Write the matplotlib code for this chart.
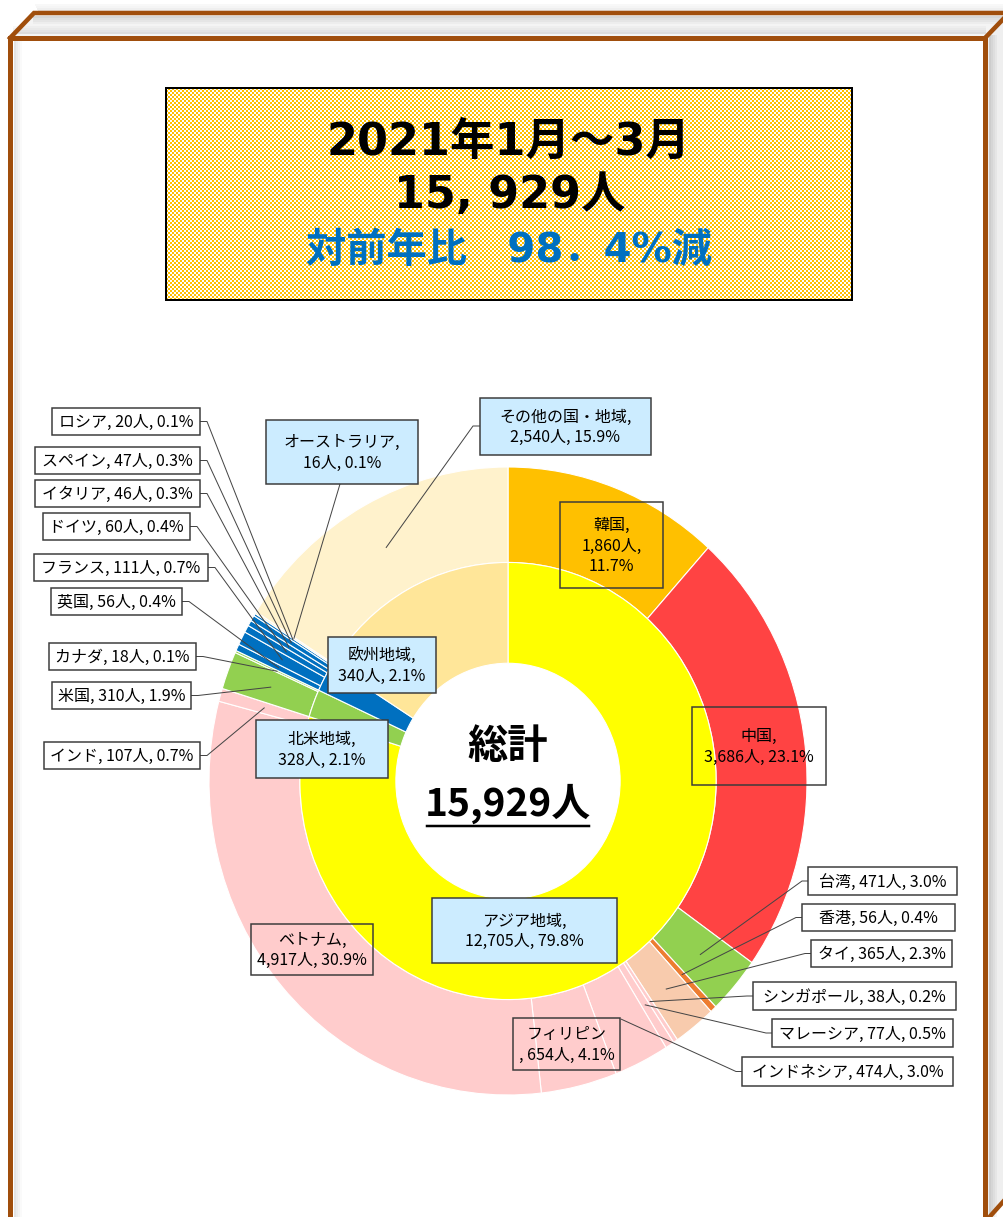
import numpy as np
import matplotlib
matplotlib.use("Agg")
import matplotlib.pyplot as plt
from matplotlib.patches import Rectangle, Polygon

plt.rcParams['font.family'] = ['Noto Sans CJK JP', 'DejaVu Sans']

# ---------------- data ----------------
countries = ['韓国', '中国', '台湾', '香港', 'タイ', 'シンガポール', 'マレーシア',
             'インドネシア', 'フィリピン', 'ベトナム', 'インド', '米国', 'カナダ',
             '英国', 'フランス', 'ドイツ', 'イタリア', 'スペイン', 'ロシア',
             'オーストラリア', 'その他の国・地域']
country_values = [1860, 3686, 471, 56, 365, 38, 77, 474, 654, 4917, 107, 310, 18,
                  56, 111, 60, 46, 47, 20, 16, 2540]
country_colors = ['#FFC000', '#FF4343', '#92D050', '#ED7D31', '#F8CBAD', '#FFCCCC',
                  '#FFCCCC', '#FFCCCC', '#FFCCCC', '#FFCCCC', '#FFCCCC', '#92D050',
                  '#92D050', '#0070C0', '#0070C0', '#0070C0', '#0070C0', '#0070C0',
                  '#0070C0', '#FFF2CC', '#FFF2CC']
regions = ['アジア地域', '北米地域', '欧州地域', 'その他']
region_values = [12705, 328, 340, 2556]
region_colors = ['#FFFF00', '#92D050', '#0070C0', '#FFE699']
total = 15929
title_lines = ['2021年1月～3月', '15, 929人', '対前年比　98．4%減']
center_title = '総計'

W, H = 1004, 1217
fig = plt.figure(figsize=(W / 100, H / 100), dpi=100)
fig.patch.set_facecolor('white')

BROWN = '#A04E0C'
PX = 0.72  # points per pixel
TITLE_FONT = ['DejaVu Sans', 'Noto Sans CJK JP']

# ---------------- background / frame ----------------
bg = fig.add_axes([0, 0, 1, 1], zorder=0)
bg.set_xlim(0, W); bg.set_ylim(H, 0); bg.axis('off')

# soft shadow above top face
for i, a in enumerate([0.05, 0.08, 0.12, 0.16]):
    bg.plot([36 + i, 1010], [5 + i * 2, 5 + i * 2], color='gray', alpha=a, lw=2 * PX)

top_face = Polygon([(10, 38), (34, 13), (1010, 13), (985, 38)], closed=True,
                   facecolor='#F4F4F4', edgecolor='none')
bg.add_patch(top_face)
for i, a in enumerate([0.25, 0.18, 0.12, 0.06]):
    bg.plot([34, 1008], [17 + i * 2, 17 + i * 2], color='gray', alpha=a, lw=2 * PX)
    bg.plot([14, 985], [33 - i * 2, 33 - i * 2], color='gray', alpha=a * 0.8, lw=2 * PX)

right_face = Polygon([(985, 38), (1010, 13), (1010, 1195), (985, 1222)], closed=True,
                     facecolor='#EFEFEF', edgecolor='none')
bg.add_patch(right_face)
for i, a in enumerate([0.30, 0.22, 0.15, 0.08]):
    bg.plot([990 + i * 2, 990 + i * 2], [36, 1222], color='gray', alpha=a, lw=2 * PX)
for i, a in enumerate([0.22, 0.15, 0.09, 0.04]):
    bg.plot([15 + i * 2, 15 + i * 2], [42, 1222], color='gray', alpha=a, lw=2 * PX)

# brown edges
bg.plot([10, 10, 985, 985], [1225, 38, 38, 1225], color=BROWN, lw=5 * PX,
        solid_joinstyle='miter')
bg.plot([10, 34, 1012], [38, 13, 13], color=BROWN, lw=4.5 * PX, solid_joinstyle='miter')
bg.plot([985, 1010], [38, 12], color=BROWN, lw=4.5 * PX)
bg.plot([985, 1010], [1222, 1194], color=BROWN, lw=4.5 * PX)

# title box with dotted (checkerboard) fill
tx0, ty0, tx1, ty1 = 166, 88, 852, 300
hh, ww = ty1 - ty0, tx1 - tx0
yy, xx = np.mgrid[0:hh, 0:ww]
chk = ((yy // 2 + xx // 2) % 2).astype(bool)
img = np.ones((hh, ww, 3))
img[chk] = np.array([255, 192, 0]) / 255.0
bg.imshow(img, extent=(tx0, tx1, ty1, ty0), interpolation='nearest', zorder=1,
          aspect='auto')
bg.add_patch(Rectangle((tx0, ty0), ww, hh, fill=False, edgecolor='black',
                       lw=2 * PX, zorder=2))
bg.set_xlim(0, W); bg.set_ylim(H, 0)
bg.text(508, 142, title_lines[0], ha='center', va='center', fontsize=32,
        fontweight='bold', color='black', zorder=3, family=TITLE_FONT)
bg.text(510, 196, title_lines[1], ha='center', va='center', fontsize=32,
        fontweight='bold', color='black', zorder=3, family=TITLE_FONT)
bg.text(509, 251, title_lines[2], ha='center', va='center', fontsize=29,
        fontweight='bold', color='#0070C0', zorder=3, family=TITLE_FONT)

# ---------------- pie ----------------
CX, CY, RX, RY = 508, 781, 299, 314
L = 1.1
ax = fig.add_axes([(CX - L * RX) / W, (H - CY - L * RY) / H,
                   2 * L * RX / W, 2 * L * RY / H], zorder=1)
R_OUT, R_MID, R_IN = 1.0, 0.696, 0.375
outer_w, _ = ax.pie(country_values, radius=R_OUT, startangle=90, counterclock=False,
                    colors=country_colors,
                    wedgeprops=dict(width=R_OUT - R_MID, edgecolor='white', linewidth=0.8))
inner_w, _ = ax.pie(region_values, radius=R_MID, startangle=90, counterclock=False,
                    colors=region_colors,
                    wedgeprops=dict(width=R_MID - R_IN, edgecolor='white', linewidth=0.8))
ax.set_xlim(-L, L); ax.set_ylim(-L, L); ax.set_aspect('auto'); ax.axis('off')

# ---------------- overlay: labels ----------------
ov = fig.add_axes([0, 0, 1, 1], zorder=2)
ov.set_xlim(0, W); ov.set_ylim(H, 0); ov.axis('off'); ov.patch.set_alpha(0)


def anchor(wedge, r=(R_OUT + R_MID) / 2):
    t = np.deg2rad((wedge.theta1 + wedge.theta2) / 2)
    dx, dy = ax.transData.transform((r * np.cos(t), r * np.sin(t)))
    return dx, H - dy


def pct(v):
    return f'{v / total * 100:.1f}%'


def box(x0, y0, x1, y1, text, fill=None, fs=11.5, ls=1.25):
    ov.add_patch(Rectangle((x0, y0), x1 - x0, y1 - y0,
                           facecolor=fill if fill else 'none',
                           edgecolor='#3A3A3A', lw=1.5 * PX, zorder=3))
    ov.text((x0 + x1) / 2, (y0 + y1) / 2 + 1, text, ha='center', va='center',
            fontsize=fs, color='black', linespacing=ls, zorder=4)


LEAD = dict(color='#454545', lw=1.0 * PX, zorder=2.5)
BLUE_FILL = '#CCECFF'

# left column (box right edge -> elbow -> wedge)
left_col = {
    'ロシア': (52, 408, 200, 435),
    'スペイン': (35, 447, 200, 474),
    'イタリア': (35, 480, 200, 507),
    'ドイツ': (43, 513, 190, 540),
    'フランス': (34, 554, 208, 581),
    '英国': (51, 588, 182, 615),
    'カナダ': (49, 643, 196, 670),
    '米国': (52, 682, 191, 709),
    'インド': (44, 742, 200, 769),
}
# right column (box left edge -> elbow -> wedge)
right_col = {
    '台湾': (808, 867, 957, 895),
    '香港': (802, 904, 955, 931),
    'タイ': (811, 940, 952, 967),
    'シンガポール': (753, 982, 956, 1010),
    'マレーシア': (772, 1019, 953, 1047),
    'インドネシア': (742, 1057, 953, 1086),
}

for name, (x0, y0, x1, y1) in left_col.items():
    i = countries.index(name)
    v = country_values[i]
    box(x0, y0, x1, y1, f'{name}, {v:,}人, {pct(v)}', fill='white')
    ym = (y0 + y1) / 2
    px, py = anchor(outer_w[i])
    ov.plot([x1, x1 + 7, px], [ym, ym, py], **LEAD)

for name, (x0, y0, x1, y1) in right_col.items():
    i = countries.index(name)
    v = country_values[i]
    box(x0, y0, x1, y1, f'{name}, {v:,}人, {pct(v)}', fill='white')
    ym = (y0 + y1) / 2
    px, py = anchor(outer_w[i])
    ov.plot([x0, x0 - 6, px], [ym, ym, py], **LEAD)

# in-wedge labels
i = countries.index('韓国'); v = country_values[i]
box(560, 502, 663, 588, f'韓国,\n{v:,}人,\n{pct(v)}')
i = countries.index('中国'); v = country_values[i]
box(692, 707, 826, 785, f'中国,\n{v:,}人, {pct(v)}')
i = countries.index('ベトナム'); v = country_values[i]
box(251, 924, 373, 975, f'ベトナム,\n{v:,}人, {pct(v)}')
i = countries.index('フィリピン'); v = country_values[i]
box(513, 1018, 620, 1070, f'フィリピン\n, {v:,}人, {pct(v)}')

# Australia
i = countries.index('オーストラリア'); v = country_values[i]
box(266, 420, 418, 484, f'オーストラリア,\n{v:,}人, {pct(v)}', fill=BLUE_FILL)
px, py = anchor(outer_w[i])
ov.plot([340, px], [484, py], **LEAD)

# Others
i = countries.index('その他の国・地域'); v = country_values[i]
box(480, 398, 651, 455, f'その他の国・地域,\n{v:,}人, {pct(v)}', fill=BLUE_FILL)
px, py = anchor(outer_w[i])
ov.plot([480, 473, px], [426, 426, py], **LEAD)

# region labels (inner ring)
region_boxes = {
    'アジア地域': (432, 898, 617, 963),
    '北米地域': (256, 720, 388, 778),
    '欧州地域': (328, 637, 436, 693),
}
for name, (x0, y0, x1, y1) in region_boxes.items():
    v = region_values[regions.index(name)]
    box(x0, y0, x1, y1, f'{name},\n{v:,}人, {pct(v)}', fill=BLUE_FILL)

# center text
ov.text(CX, 746, center_title, ha='center', va='center', fontsize=29,
        fontweight='bold', color='black', zorder=4)
t = ov.text(CX, 804, f'{total:,}人', ha='center', va='center', fontsize=28,
            fontweight='bold', color='black', zorder=4)
fig.canvas.draw()
bb = t.get_window_extent(renderer=fig.canvas.get_renderer())
ov.plot([bb.x0 + 2, bb.x1 - 2], [826, 826], color='black', lw=2.5 * PX, zorder=4)

fig.savefig('out.png', dpi=100, facecolor='white')
